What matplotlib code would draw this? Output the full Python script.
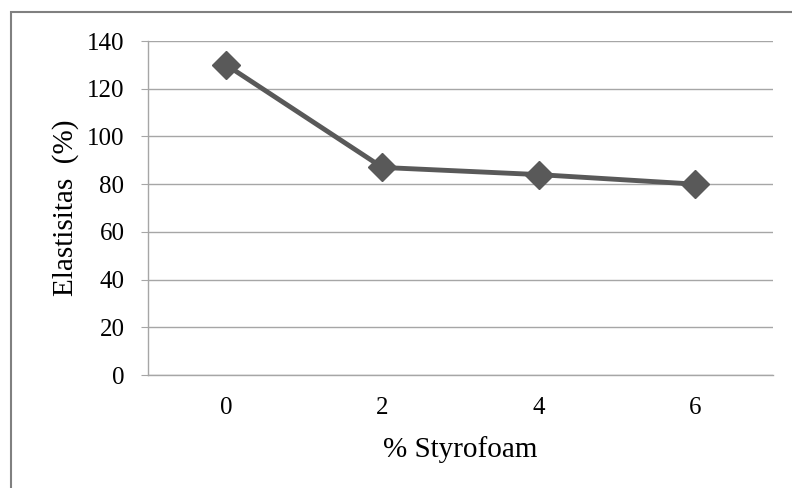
import matplotlib.pyplot as plt
from matplotlib.patches import Rectangle

categories = ["0", "2", "4", "6"]
elastisitas = [130, 87, 84, 80]
y_ticks = [0, 20, 40, 60, 80, 100, 120, 140]

plt.rcParams["font.family"] = ["Liberation Serif", "DejaVu Serif"]

fig = plt.figure(figsize=(7.92, 4.88), dpi=100)
ax = fig.add_axes([148 / 792, 113 / 488, 625 / 792, 334 / 488])

x = list(range(len(categories)))
ax.plot(x, elastisitas, color="#595959", lw=3.5, marker="D", ms=14,
        markerfacecolor="#595959", markeredgecolor="#595959", zorder=3,
        clip_on=False)

ax.set_xlim(-0.5, len(categories) - 0.5)
ax.set_ylim(0, 140)
ax.set_yticks(y_ticks)
ax.set_xticks(x, categories)
ax.yaxis.grid(True, color="#a6a6a6", lw=1)
ax.set_axisbelow(True)

for side in ["top", "right"]:
    ax.spines[side].set_visible(False)
for side in ["left", "bottom"]:
    ax.spines[side].set_color("#a6a6a6")
    ax.spines[side].set_linewidth(1)

ax.tick_params(axis="y", length=5, color="#a6a6a6", labelsize=18, pad=12)
ax.tick_params(axis="x", length=0, labelsize=18, pad=16)
ax.set_xlabel("% Styrofoam", fontsize=21, labelpad=12)
ax.set_ylabel("Elastisitas  (%)", fontsize=21, labelpad=6)

# outer chart frame (only top and left edges fall inside the image)
fig.patches.append(Rectangle((11 / 792, -0.05), 0.99, (476 / 488) + 0.05,
                             transform=fig.transFigure, fill=False,
                             edgecolor="#808080", lw=1.5))

fig.savefig("out.png", dpi=100)
